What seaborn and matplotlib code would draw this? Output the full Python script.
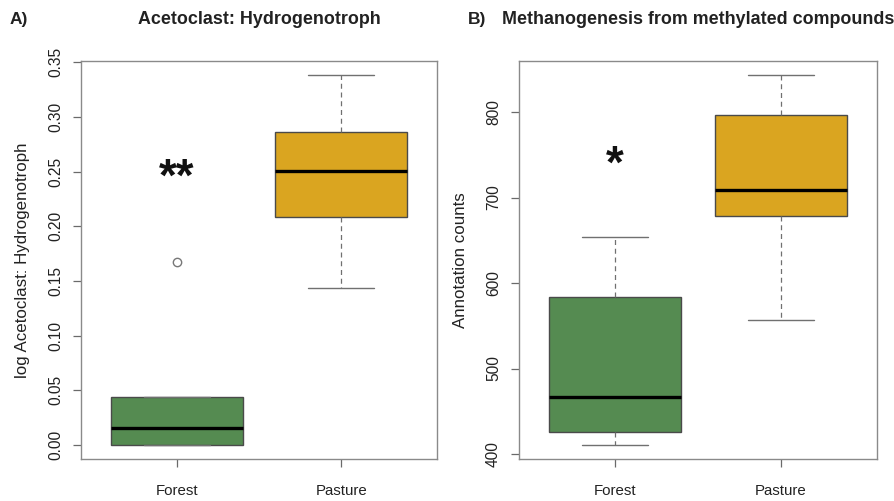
import matplotlib
matplotlib.use("Agg")
import matplotlib.pyplot as plt
import seaborn as sns
import pandas as pd

# ---- data ----
groups = ["Forest", "Pasture"]
ratio_forest = [0.0, 0.0, 0.0155, 0.044, 0.167]
ratio_pasture = [0.1435, 0.208, 0.2505, 0.286, 0.338]
counts_forest = [410.5, 425.7, 466.7, 583.6, 653.8]
counts_pasture = [556.7, 678.4, 708.8, 796.5, 843.0]
ratio_ticks = [0.00, 0.05, 0.10, 0.15, 0.20, 0.25, 0.30, 0.35]
count_ticks = [400, 500, 600, 700, 800]
colors = ["#558B51", "#DAA520"]

sns.set_style("white")
plt.rcParams["font.family"] = ["Liberation Sans", "DejaVu Sans"]

df_a = pd.DataFrame({
    "group": ["Forest"] * len(ratio_forest) + ["Pasture"] * len(ratio_pasture),
    "value": ratio_forest + ratio_pasture,
})
df_b = pd.DataFrame({
    "group": ["Forest"] * len(counts_forest) + ["Pasture"] * len(counts_pasture),
    "value": counts_forest + counts_pasture,
})

fig = plt.figure(figsize=(8.94, 5.01), dpi=100)
ax_a = fig.add_axes([0.0906, 0.0838, 0.3982, 0.7944])
ax_b = fig.add_axes([0.5805, 0.0838, 0.4005, 0.7944])

box_kws = dict(
    x="group", y="value", hue="group", order=groups, hue_order=groups,
    palette=colors, legend=False, width=0.8, saturation=1, whis=1.5,
    linecolor="#4a4a4a", linewidth=1.0,
    medianprops=dict(color="black", linewidth=2.4),
    whiskerprops=dict(color="#707070", linestyle=(0, (4, 3)), linewidth=0.9),
    capprops=dict(color="#707070", linewidth=1.0),
    flierprops=dict(marker="o", markerfacecolor="none", markeredgecolor="#777777",
                    markersize=6, markeredgewidth=1.0),
)

sns.boxplot(data=df_a, ax=ax_a, **box_kws)
sns.boxplot(data=df_b, ax=ax_b, **box_kws)

for ax in (ax_a, ax_b):
    ax.set_xlim(-0.58, 1.58)
    for s in ax.spines.values():
        s.set_visible(True)
        s.set_color("#8a8a8a")
        s.set_linewidth(1.0)
    ax.tick_params(axis="both", which="both", direction="out", length=6,
                   width=0.9, color="#6a6a6a", labelcolor="#222222",
                   left=True, bottom=True)
    ax.tick_params(axis="y", pad=7, labelsize=11.2)
    ax.tick_params(axis="x", pad=12, labelsize=10.8)
    ax.set_xlabel("")

ax_a.set_ylim(-0.0128, 0.351)
ax_a.set_yticks(ratio_ticks)
ax_a.set_yticklabels([f"{t:.2f}" for t in ratio_ticks], rotation=90, va="center")
ax_a.set_ylabel("log Acetoclast: Hydrogenotroph", fontsize=12.2, color="#222222", labelpad=13)

ax_b.set_ylim(394.2, 859.6)
ax_b.set_yticks(count_ticks)
ax_b.set_yticklabels([str(t) for t in count_ticks], rotation=90, va="center")
ax_b.set_ylabel("Annotation counts", fontsize=12.2, color="#222222", labelpad=13)

ax_a.text(0, 0.243, "**", ha="center", va="center", fontsize=33, fontweight="bold", color="#111111")
ax_b.text(0, 737, "*", ha="center", va="center", fontsize=33, fontweight="bold", color="#111111")

fig.text(0.011, 0.962, "A)", fontsize=12.5, fontweight="bold", ha="left", va="center", color="#222222")
fig.text(0.2905, 0.962, "Acetoclast: Hydrogenotroph", fontsize=12.9, fontweight="bold",
         ha="center", va="center", color="#222222")
fig.text(0.523, 0.962, "B)", fontsize=12.5, fontweight="bold", ha="left", va="center", color="#222222")
fig.text(0.5615, 0.962, "Methanogenesis from methylated compounds", fontsize=12.9, fontweight="bold",
         ha="left", va="center", color="#222222")

fig.savefig("out.png", dpi=100)
